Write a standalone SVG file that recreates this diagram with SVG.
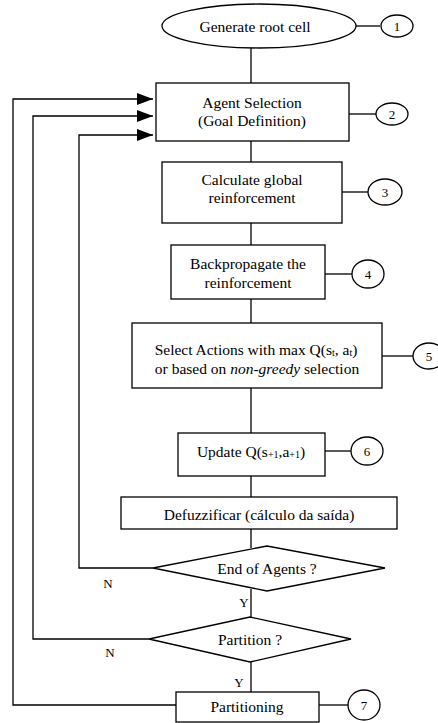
<svg xmlns="http://www.w3.org/2000/svg" width="438" height="723" viewBox="0 0 438 723">
<style>
.s{fill:#fff;stroke:#000;stroke-width:1.3}
.c{fill:none;stroke:#000;stroke-width:1.3}
text{font-family:"Liberation Serif","Times New Roman",serif;font-size:15.5px;fill:#000;text-anchor:middle;dominant-baseline:central}
.sub{font-size:10px}
.num{font-size:13px}
</style>
<defs>
<marker id="ah2" viewBox="0 0 16 12" refX="16" refY="6" markerWidth="16" markerHeight="12" markerUnits="userSpaceOnUse" orient="auto">
<path d="M0,0 L16,6 L0,12 z" fill="#000"/>
</marker>
</defs>
<rect width="438" height="723" fill="#fff"/>
<g id="connectors">
<line class="c" x1="251" y1="48" x2="251" y2="83"/>
<line class="c" x1="251" y1="141" x2="251" y2="162"/>
<line class="c" x1="251" y1="223" x2="251" y2="245"/>
<line class="c" x1="251" y1="299" x2="251" y2="323"/>
<line class="c" x1="251" y1="388" x2="251" y2="433"/>
<line class="c" x1="251" y1="476" x2="251" y2="497"/>
<line class="c" x1="251" y1="529" x2="251" y2="548"/>
<line class="c" x1="251" y1="589" x2="251" y2="620"/>
<line class="c" x1="251" y1="662" x2="251" y2="692"/>
<line class="c" x1="356" y1="26" x2="380" y2="26"/>
<line class="c" x1="349" y1="114" x2="376" y2="114"/>
<line class="c" x1="342" y1="192" x2="368" y2="192"/>
<line class="c" x1="325" y1="274" x2="352" y2="274"/>
<line class="c" x1="382" y1="356" x2="413" y2="356"/>
<line class="c" x1="325" y1="451" x2="351" y2="451"/>
<line class="c" x1="319" y1="705" x2="348" y2="705"/>
<polyline class="c" points="153,568 79,568 79,135 153,135" marker-end="url(#ah2)"/>
<polyline class="c" points="149,639 33,639 33,116 153,116" marker-end="url(#ah2)"/>
<polyline class="c" points="176,705 13,705 13,99 153,99" marker-end="url(#ah2)"/>
<text x="108" y="583" class="num">N</text>
<text x="110" y="652" class="num">N</text>
<text x="244" y="602" class="num">Y</text>
<text x="239" y="682" class="num">Y</text>
</g>
<g id="n1">
<ellipse class="s" cx="259" cy="26" rx="97" ry="22"/>
<text x="255" y="26">Generate root cell</text>
</g>
<g id="c1"><ellipse class="s" cx="397" cy="26" rx="16" ry="11"/><text x="397" y="26" class="num">1</text></g>
<g id="n2">
<rect class="s" x="156" y="83" width="193" height="58"/>
<text x="252" y="102">Agent Selection</text>
<text x="252" y="120">(Goal Definition)</text>
</g>
<g id="c2"><ellipse class="s" cx="392" cy="114" rx="16" ry="11"/><text x="392" y="114" class="num">2</text></g>
<g id="n3">
<rect class="s" x="162" y="162" width="180" height="61"/>
<text x="252" y="179">Calculate global</text>
<text x="252" y="197">reinforcement</text>
</g>
<g id="c3"><ellipse class="s" cx="385" cy="192" rx="17" ry="13"/><text x="385" y="192" class="num">3</text></g>
<g id="n4">
<rect class="s" x="171" y="245" width="154" height="54"/>
<text x="248" y="263">Backpropagate the</text>
<text x="248" y="282">reinforcement</text>
</g>
<g id="c4"><ellipse class="s" cx="368" cy="274" rx="16" ry="14"/><text x="368" y="274" class="num">4</text></g>
<g id="n5">
<rect class="s" x="132" y="323" width="250" height="65"/>
<text x="256" y="349">Select Actions with max Q(s<tspan class="sub" dy="3">t</tspan><tspan dy="-3">, a</tspan><tspan class="sub" dy="3">t</tspan><tspan dy="-3">)</tspan></text>
<text x="257" y="368">or based on <tspan font-style="italic">non-greedy</tspan> selection</text>
</g>
<g id="c5"><ellipse class="s" cx="429" cy="356" rx="16" ry="13"/><text x="429" y="356" class="num">5</text></g>
<g id="n6">
<rect class="s" x="178" y="433" width="147" height="43"/>
<text x="251" y="451">Update Q(s<tspan class="sub" dy="3">+1</tspan><tspan dy="-3">,a</tspan><tspan class="sub" dy="3">+1</tspan><tspan dy="-3">)</tspan></text>
</g>
<g id="c6"><ellipse class="s" cx="367" cy="451" rx="16" ry="14"/><text x="367" y="451" class="num">6</text></g>
<g id="n7">
<rect class="s" x="121" y="497" width="276" height="32"/>
<text x="259" y="514">Defuzzificar (cálculo da saída)</text>
</g>
<g id="n8">
<polygon class="s" points="153,568 267,546 385,568 267,591"/>
<text x="267" y="568">End of Agents ?</text>
</g>
<g id="n9">
<polygon class="s" points="149,639 250,617 351,639 250,662"/>
<text x="250" y="639">Partition ?</text>
</g>
<g id="n10">
<rect class="s" x="176" y="692" width="143" height="30"/>
<text x="247" y="706">Partitioning</text>
</g>
<g id="c7"><ellipse class="s" cx="364" cy="705" rx="16" ry="15"/><text x="364" y="705" class="num">7</text></g>
</svg>
